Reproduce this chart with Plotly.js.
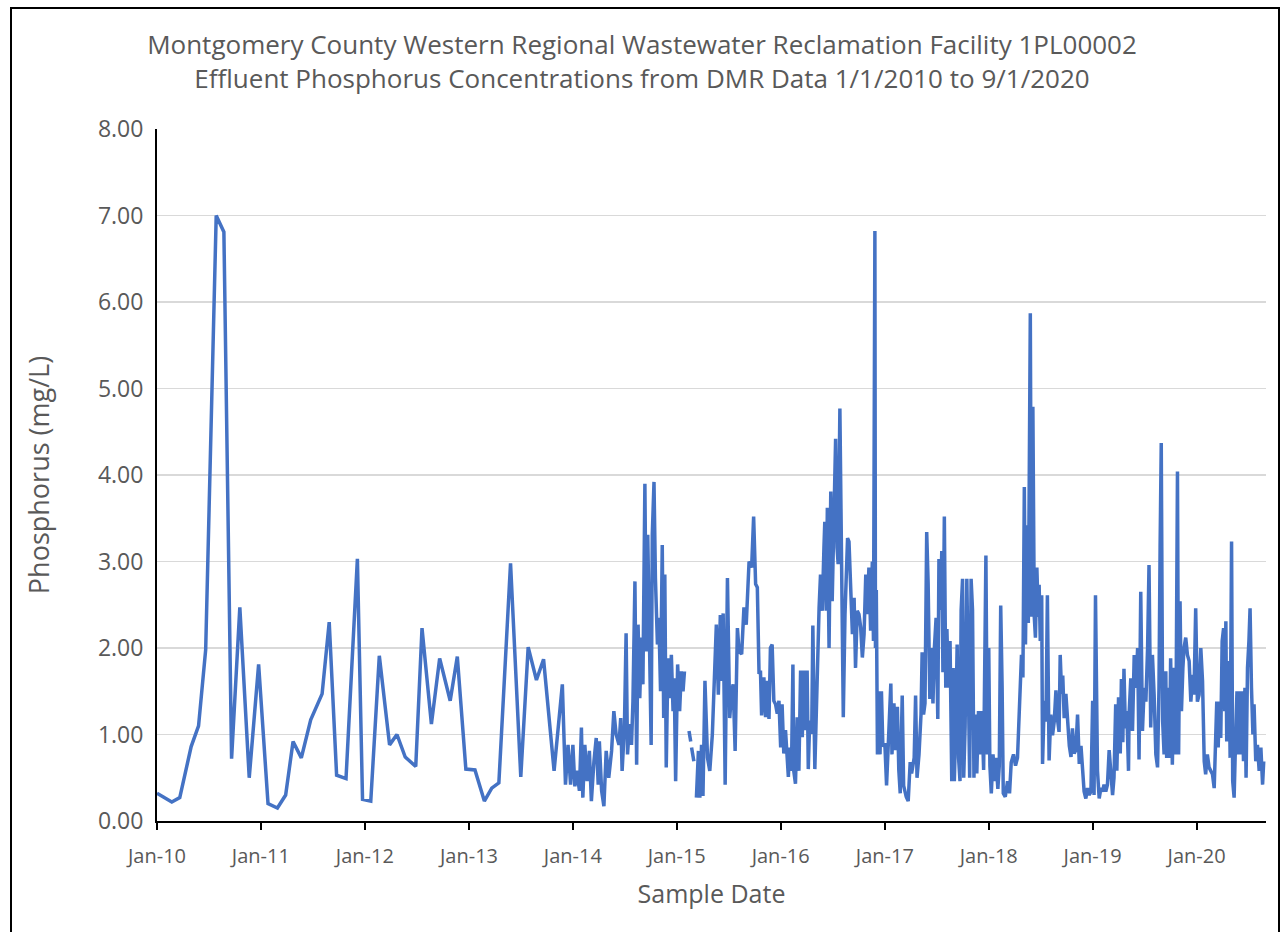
<!DOCTYPE html>
<html>
<head>
<meta charset="utf-8">
<script src="https://cdn.plot.ly/plotly-3.0.1.min.js"></script>
<style>
html,body{margin:0;padding:0;background:#fff;overflow:hidden;}
#chart{position:absolute;left:0;top:0;width:1284px;height:932px;}
#frame{position:absolute;left:10px;top:7px;width:1270px;height:960px;border:2px solid #000;pointer-events:none;box-sizing:border-box;}
</style>
</head>
<body>
<div id="chart"></div>
<div id="frame"></div>
<script>
// Sample dates as decimal years; null = gap in record
const sampleYears = [
2010.000,2010.145,2010.220,2010.330,2010.400,2010.470,2010.570,2010.645,2010.720,2010.800,
2010.890,2010.980,2011.070,2011.160,2011.240,2011.310,2011.390,2011.480,2011.590,2011.660,
2011.730,2011.820,2011.930,2011.980,2012.060,2012.140,2012.240,2012.310,2012.390,2012.490,
2012.550,2012.640,2012.720,2012.820,2012.890,2012.970,2013.060,2013.150,2013.220,2013.290,
2013.400,2013.500,2013.570,2013.650,2013.720,2013.820,2013.900,
2013.930,2013.955,2013.980,2014.000,2014.020,2014.040,2014.064,2014.084,2014.096,2014.116,
2014.138,2014.161,2014.180,2014.203,2014.225,2014.244,2014.257,2014.277,2014.299,2014.322,
2014.347,2014.373,2014.395,2014.418,2014.444,2014.463,2014.476,2014.498,2014.514,2014.527,
2014.547,2014.566,2014.579,2014.598,2014.614,2014.630,2014.646,2014.662,2014.675,2014.695,
2014.707,2014.723,2014.740,2014.756,2014.765,2014.781,2014.797,2014.814,2014.830,2014.846,
2014.862,2014.875,2014.887,2014.900,2014.916,2014.932,2014.949,2014.965,2014.977,2014.990,
2015.010,2015.029,2015.045,2015.061,2015.074,2015.097,2015.119,2015.135,2015.140,2015.145,
2015.167,2015.178,2015.190,2015.209,2015.222,2015.241,2015.254,2015.273,2015.296,2015.318,
2015.344,2015.363,2015.383,2015.402,2015.421,2015.434,2015.447,2015.466,2015.489,2015.511,
2015.531,2015.543,2015.563,2015.585,2015.601,
2015.625,2015.647,2015.670,2015.696,2015.721,2015.740,2015.760,2015.776,2015.792,2015.808,
2015.817,2015.840,2015.856,2015.872,2015.888,2015.904,2015.920,2015.936,2015.952,2015.968,
2015.984,2016.000,2016.016,2016.032,2016.048,2016.074,2016.087,2016.106,2016.119,2016.128,
2016.144,2016.160,2016.176,2016.192,2016.208,2016.224,2016.240,2016.256,2016.266,2016.279,
2016.298,2016.311,2016.330,2016.346,2016.369,2016.385,2016.401,2016.417,2016.426,2016.439,
2016.449,2016.465,2016.481,2016.497,2016.513,2016.529,2016.542,2016.554,2016.571,2016.587,
2016.603,2016.619,2016.631,2016.644,2016.657,2016.676,2016.689,2016.705,2016.721,2016.737,
2016.753,2016.769,2016.785,2016.801,2016.817,2016.833,2016.849,2016.865,2016.881,2016.891,
2016.907,
2016.912,2016.919,2016.929,2016.942,2016.955,2016.968,2016.981,2017.000,2017.019,2017.039,
2017.058,2017.071,2017.090,2017.103,2017.123,2017.135,2017.148,2017.168,2017.181,2017.206,
2017.226,2017.245,2017.258,2017.284,2017.297,2017.310,2017.329,2017.348,2017.361,2017.374,
2017.387,2017.403,2017.419,2017.435,2017.452,2017.465,2017.477,2017.494,2017.510,2017.523,
2017.535,2017.548,2017.561,2017.574,2017.587,2017.600,2017.613,2017.629,2017.645,2017.658,
2017.671,2017.684,2017.697,2017.710,2017.726,2017.735,2017.748,2017.761,2017.774,2017.790,
2017.806,2017.819,2017.832,2017.845,2017.858,2017.871,2017.887,2017.903,2017.919,2017.935,
2017.952,2017.961,2017.974,2017.987,2018.000,2018.013,2018.026,2018.042,2018.058,2018.071,
2018.090,2018.103,2018.116,2018.129,2018.142,2018.161,2018.181,2018.200,2018.219,2018.239,
2018.258,2018.277,2018.297,
2018.317,2018.330,2018.343,2018.356,2018.369,2018.381,2018.401,2018.413,2018.426,2018.439,
2018.452,2018.465,2018.478,2018.487,2018.497,2018.510,2018.519,2018.535,2018.551,2018.567,
2018.583,2018.599,2018.615,2018.631,2018.647,2018.663,2018.679,2018.689,2018.702,2018.715,
2018.728,2018.744,2018.760,2018.776,2018.792,2018.808,2018.824,2018.840,2018.856,2018.872,
2018.888,2018.904,2018.920,2018.936,2018.952,2018.968,2018.984,2019.000,2019.016,2019.029,
2019.048,2019.064,2019.080,2019.096,2019.112,2019.128,2019.144,2019.160,2019.176,2019.192,
2019.208,2019.224,2019.234,2019.250,2019.266,2019.279,2019.292,2019.304,2019.317,2019.330,
2019.346,2019.353,2019.369,2019.385,2019.401,2019.417,2019.433,2019.449,2019.465,2019.481,
2019.497,2019.513,2019.529,2019.545,2019.561,2019.577,2019.593,2019.609,2019.625,2019.641,
2019.651,2019.663,2019.676,2019.689,2019.705,2019.715,2019.728,2019.740,2019.753,2019.769,
2019.785,2019.801,2019.817,2019.830,2019.843,2019.856,2019.869,2019.881,2019.897,2019.913,
2019.929,2019.946,2019.962,2019.978,2019.994,2020.010,2020.026,2020.042,2020.058,2020.074,
2020.090,2020.106,2020.122,2020.138,2020.154,2020.170,2020.186,2020.196,2020.208,2020.221,
2020.234,2020.247,2020.260,2020.272,2020.282,2020.292,2020.304,2020.314,2020.324,2020.337,
2020.349,2020.362,2020.375,2020.388,2020.401,2020.413,2020.426,2020.439,2020.452,2020.465,
2020.478,2020.490,2020.503,2020.516,2020.529,2020.542,2020.554,2020.571,2020.587,2020.603,
2020.619,2020.635,2020.645
];

// Effluent phosphorus (mg/L)
const phosphorus = [
0.32,0.22,0.27,0.86,1.10,1.98,7.00,6.81,0.72,2.47,
0.50,1.81,0.20,0.15,0.30,0.92,0.73,1.17,1.47,2.30,
0.53,0.49,3.03,0.25,0.23,1.91,0.88,1.00,0.74,0.63,
2.23,1.12,1.88,1.39,1.90,0.60,0.59,0.23,0.38,0.44,
2.98,0.51,2.01,1.63,1.87,0.58,1.58,
0.42,0.88,0.42,0.88,0.40,0.58,0.35,1.08,0.27,0.88,
0.46,0.81,0.23,0.69,0.96,0.42,0.92,0.35,0.17,0.81,
0.50,0.81,1.27,1.00,0.88,1.19,0.58,1.08,2.17,0.77,
1.12,0.88,1.38,2.77,0.65,2.27,1.42,2.12,1.58,3.90,
1.96,3.31,1.96,0.88,3.31,3.92,2.81,2.04,2.35,1.50,
3.19,1.19,2.85,0.62,1.88,1.42,1.92,1.27,1.65,0.46,
1.81,1.27,1.73,1.50,1.73,null,1.04,0.92,null,0.85,
0.69,null,0.27,0.81,0.27,0.88,0.29,1.62,0.73,0.58,
1.00,1.58,2.27,1.46,2.38,1.62,2.40,0.42,2.81,1.19,
1.50,1.58,0.81,2.23,1.96,
1.93,2.47,2.27,3.00,2.93,3.52,2.74,2.70,1.70,1.74,
1.22,1.66,1.20,1.62,1.18,2.00,2.04,1.39,1.35,1.24,
1.39,0.85,1.35,0.78,1.05,0.51,0.85,0.58,1.81,0.58,
0.43,1.20,0.58,1.74,0.97,1.74,1.05,1.74,0.60,1.16,
1.01,2.26,0.60,1.43,2.47,2.85,2.43,3.16,3.46,2.43,
3.62,2.00,3.81,2.54,3.35,4.42,3.16,2.97,4.77,2.89,
1.20,2.39,2.85,3.27,3.23,2.70,2.16,2.58,1.77,2.43,
2.39,2.24,1.89,2.16,2.85,2.39,2.93,2.20,3.00,2.08,
6.82,
2.00,2.67,0.77,1.50,0.77,1.50,0.86,0.90,0.41,0.95,
1.59,0.77,1.36,0.82,1.32,0.59,0.32,1.45,0.41,0.28,
0.23,0.68,0.55,0.73,1.45,0.50,0.77,1.23,1.95,1.23,
1.36,3.34,2.76,1.41,2.00,1.36,2.00,2.35,1.18,3.03,
2.44,3.12,1.72,3.52,1.54,2.22,1.54,2.08,0.46,1.77,
0.46,1.09,2.04,0.73,0.46,2.44,2.80,0.50,1.09,2.80,
1.00,0.50,2.80,2.44,0.50,1.23,0.55,1.27,0.77,1.27,
0.59,2.00,3.07,0.77,2.00,0.64,0.32,0.77,0.46,0.73,
0.37,0.64,2.49,1.54,0.32,0.28,0.46,0.32,0.68,0.77,
0.64,0.73,1.23,
1.92,1.66,3.86,2.04,3.42,2.29,5.87,2.36,4.79,2.36,
2.12,2.93,2.36,2.73,2.08,2.61,0.66,1.39,1.15,2.61,
0.70,1.23,0.99,1.15,1.51,1.19,1.03,1.92,1.47,1.68,
1.19,1.47,1.07,0.87,0.74,1.07,0.78,0.82,1.23,0.66,
0.87,0.58,0.34,0.26,0.38,0.30,0.34,1.39,0.30,2.61,
0.58,0.26,0.38,0.34,0.42,0.34,0.42,0.82,0.54,0.30,
0.50,1.35,0.58,1.43,0.78,1.64,0.91,1.76,1.07,1.27,
0.58,1.23,1.65,1.04,1.92,1.54,2.00,0.71,2.65,1.04,
1.54,1.38,2.00,2.96,1.08,1.92,1.46,0.77,0.62,1.54,
3.17,4.37,1.15,0.77,1.73,0.73,1.54,0.73,1.88,0.65,
1.77,0.77,4.04,0.77,2.54,1.27,1.77,2.00,2.12,1.92,
1.85,1.38,1.69,1.46,2.46,1.38,1.46,2.00,1.62,0.69,
0.54,0.77,0.62,0.58,0.54,0.38,1.00,1.38,0.85,1.38,
0.96,2.08,2.23,1.27,2.31,0.92,1.23,1.85,0.73,3.23,
0.46,0.27,0.92,1.50,0.77,1.50,0.77,1.50,0.69,1.54,
0.50,1.77,2.08,2.46,1.54,1.00,1.35,0.69,0.88,0.58,
0.85,0.42,0.69
];

const titleLines = [
  "Montgomery County Western Regional Wastewater Reclamation Facility 1PL00002",
  "Effluent Phosphorus Concentrations from DMR Data 1/1/2010 to 9/1/2020"
];
const xAxisTitle = "Sample Date";
const yAxisTitle = "Phosphorus (mg/L)";
const yTickValues = [0,1,2,3,4,5,6,7,8];
const yTickLabels = ["0.00","1.00","2.00","3.00","4.00","5.00","6.00","7.00","8.00"];
const xRange = ["2010-01-01","2020-09-01"];

function decYearToISO(d){
  if (d === null) return null;
  const y = Math.floor(d);
  const start = Date.UTC(y,0,1), end = Date.UTC(y+1,0,1);
  return new Date(start + (d - y)*(end - start)).toISOString().slice(0,10);
}
const sampleDates = sampleYears.map(decYearToISO);

const grey = "#595959";
const fontFam = "'Open Sans', 'Noto Sans', sans-serif";

Plotly.newPlot("chart", [{
  type: "scatter",
  mode: "lines",
  x: sampleDates,
  y: phosphorus,
  connectgaps: false,
  line: {color: "#4472C4", width: 3.5, shape: "linear"},
  hoverinfo: "x+y"
}], {
  width: 1284, height: 932,
  paper_bgcolor: "#fff", plot_bgcolor: "#fff",
  margin: {l: 157, r: 18, t: 129, b: 111},
  showlegend: false,
  font: {family: fontFam, color: grey},
  title: {
    text: titleLines.join("<br>"),
    font: {family: fontFam, size: 26, color: grey},
    x: 0.5, xref: "container", xanchor: "center",
    y: 1 - 54/932, yref: "container", yanchor: "middle"
  },
  xaxis: {
    type: "date",
    range: xRange,
    tick0: "2010-01-01", dtick: "M12",
    tickformat: "%b-%y",
    ticks: "outside", ticklen: 7, tickwidth: 2, tickcolor: "#000",
    showline: true, linecolor: "#000", linewidth: 2,
    showgrid: false, zeroline: false,
    ticklabelstandoff: 9,
    tickfont: {family: fontFam, size: 20, color: grey},
    title: {text: xAxisTitle, font: {family: fontFam, size: 25, color: grey}, standoff: 17}
  },
  yaxis: {
    range: [0, 8],
    tickvals: yTickValues, ticktext: yTickLabels,
    showline: true, linecolor: "#000", linewidth: 2,
    showgrid: true, gridcolor: "#d9d9d9", gridwidth: 1.5,
    zeroline: false, ticks: "",
    ticklabelstandoff: 7,
    tickfont: {family: fontFam, size: 23, color: grey},
    title: {text: yAxisTitle, font: {family: fontFam, size: 27, color: grey}, standoff: 40}
  }
}, {displayModeBar: false, staticPlot: true});
</script>
</body>
</html>
